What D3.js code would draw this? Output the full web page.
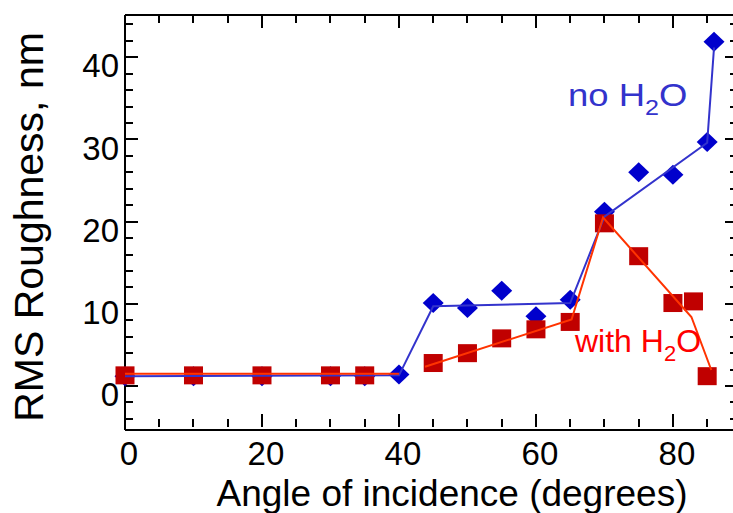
<!DOCTYPE html>
<html>
<head>
<meta charset="utf-8">
<script src="https://cdn.jsdelivr.net/npm/d3@7"></script>
<style>
  html, body { margin: 0; padding: 0; background: #fff; }
  svg { display: block; font-family: "Liberation Sans", Arial, Helvetica, sans-serif; }
</style>
</head>
<body>
<svg id="chart" width="733" height="513"></svg>
<script>
const noWaterAngles = [0, 10, 20, 30, 35, 40, 45, 50, 55, 60, 65, 70, 75, 80, 85, 86];
const noWaterRms = [1.2, 1.2, 1.2, 1.2, 1.2, 1.4, 10.1, 9.5, 11.6, 8.5, 10.5, 21.2, 26.0, 25.7, 29.7, 41.9];

const withWaterAngles = [0, 10, 20, 30, 35, 45, 50, 55, 60, 65, 70, 75, 80, 83, 85];
const withWaterRms = [1.3, 1.3, 1.3, 1.3, 1.3, 2.8, 4.0, 5.8, 6.9, 7.8, 19.8, 15.8, 10.1, 10.3, 1.2];

// guide lines drawn through the points (null = gap)
const noWaterFitX = [0, 40, 45, 65, 70, 85, 86];
const noWaterFitY = [1.2, 1.3, 9.7, 10.1, 20.6, 29.6, 41.2];
const withWaterFitX = [0, 40, 42, 43.8, 65.2, 69.8, 82.7, 85.6];
const withWaterFitY = [1.5, 1.5, null, 2.35, 8.1, 20.5, 8.4, 1.95];

const xTicks = [0, 20, 40, 60, 80];
const yTicks = [0, 10, 20, 30, 40];

const svg = d3.select('#chart');
const plotLeft = 125, plotRight = 738, plotTop = 15, plotBottom = 430;

const x = d3.scaleLinear().domain([0, 89.5]).range([plotLeft, plotRight]);
const y = d3.scaleLinear().domain([-5.35, 45.15]).range([plotBottom, plotTop]);

const xMinor = d3.range(0, 90, 5);
const yMinor = d3.range(-4, 46, 2);

// frame
const frame = svg.append('g').attr('stroke', '#000').attr('stroke-width', 2).attr('fill', 'none');
frame.append('line').attr('x1', plotLeft).attr('x2', plotRight).attr('y1', plotTop).attr('y2', plotTop);
frame.append('line').attr('x1', plotLeft).attr('x2', plotRight).attr('y1', plotBottom).attr('y2', plotBottom);
frame.append('line').attr('x1', plotLeft).attr('x2', plotLeft).attr('y1', plotTop).attr('y2', plotBottom);
frame.append('line').attr('x1', plotRight).attr('x2', plotRight).attr('y1', plotTop).attr('y2', plotBottom);

// ticks on all four sides, pointing inward
const ticks = svg.append('g').attr('stroke', '#000').attr('stroke-width', 2);
xMinor.forEach(v => {
  const len = v % 20 === 0 ? 13 : 8;
  const px = Math.round(x(v));
  if (v > 0) {
    ticks.append('line').attr('x1', px).attr('x2', px).attr('y1', plotTop).attr('y2', plotTop + len);
  }
  ticks.append('line').attr('x1', px).attr('x2', px).attr('y1', plotBottom - 3).attr('y2', plotBottom - 3 - len);
});
yMinor.forEach(v => {
  const len = v % 10 === 0 ? 13 : 8;
  const py = Math.round(y(v));
  ticks.append('line').attr('x1', plotLeft).attr('x2', plotLeft + len).attr('y1', py).attr('y2', py);
  ticks.append('line').attr('x1', plotRight).attr('x2', plotRight - len).attr('y1', py).attr('y2', py);
});

// tick labels
svg.append('g').selectAll('text').data(xTicks).join('text')
  .attr('x', d => x(d) + 4)
  .attr('y', 465)
  .attr('text-anchor', 'middle')
  .attr('font-size', 33)
  .text(d => d);

svg.append('g').selectAll('text').data(yTicks).join('text')
  .attr('x', 119)
  .attr('y', d => y(d) + 20)
  .attr('text-anchor', 'end')
  .attr('font-size', 33)
  .text(d => d);

// axis titles
svg.append('text')
  .attr('x', 452).attr('y', 506)
  .attr('text-anchor', 'middle')
  .attr('font-size', 37)
  .text('Angle of incidence (degrees)');

svg.append('text')
  .attr('transform', 'translate(43,227) rotate(-90)')
  .attr('text-anchor', 'middle')
  .attr('font-size', 41)
  .text('RMS Roughness, nm');

// markers
const blueDiamonds = d3.zip(noWaterAngles, noWaterRms);
const redSquares = d3.zip(withWaterAngles, withWaterRms);

svg.append('g').selectAll('path').data(blueDiamonds).join('path')
  .attr('transform', d => `translate(${x(d[0])},${y(d[1])})`)
  .attr('d', 'M0,-10L10.5,0L0,10L-10.5,0Z')
  .attr('fill', '#0000cc');

svg.append('g').selectAll('rect').data(redSquares).join('rect')
  .attr('x', d => x(d[0]) - 9.5)
  .attr('y', d => y(d[1]) - 9)
  .attr('width', 19)
  .attr('height', 18)
  .attr('fill', '#c00000');

// guide lines
const line = d3.line()
  .defined(d => d[1] != null)
  .x(d => x(d[0]))
  .y(d => y(d[1]));

svg.append('path')
  .datum(d3.zip(noWaterFitX, noWaterFitY))
  .attr('d', line)
  .attr('fill', 'none')
  .attr('stroke', '#3333cc')
  .attr('stroke-width', 2);

svg.append('path')
  .datum(d3.zip(withWaterFitX, withWaterFitY))
  .attr('d', line)
  .attr('fill', 'none')
  .attr('stroke', '#ff3300')
  .attr('stroke-width', 2);

// series labels
const noLabel = svg.append('text')
  .attr('transform', 'translate(568,106) scale(1.14,1)')
  .attr('font-size', 32)
  .attr('fill', '#3333cc');
noLabel.append('tspan').text('no H');
noLabel.append('tspan').attr('font-size', 22).attr('dy', 9).text('2');
noLabel.append('tspan').attr('dy', -9).text('O');

const withLabel = svg.append('text')
  .attr('x', 575).attr('y', 352)
  .attr('font-size', 32)
  .attr('fill', '#ff0000');
withLabel.append('tspan').text('with H');
withLabel.append('tspan').attr('font-size', 22).attr('dy', 9).text('2');
withLabel.append('tspan').attr('dy', -9).text('O');
</script>
</body>
</html>
